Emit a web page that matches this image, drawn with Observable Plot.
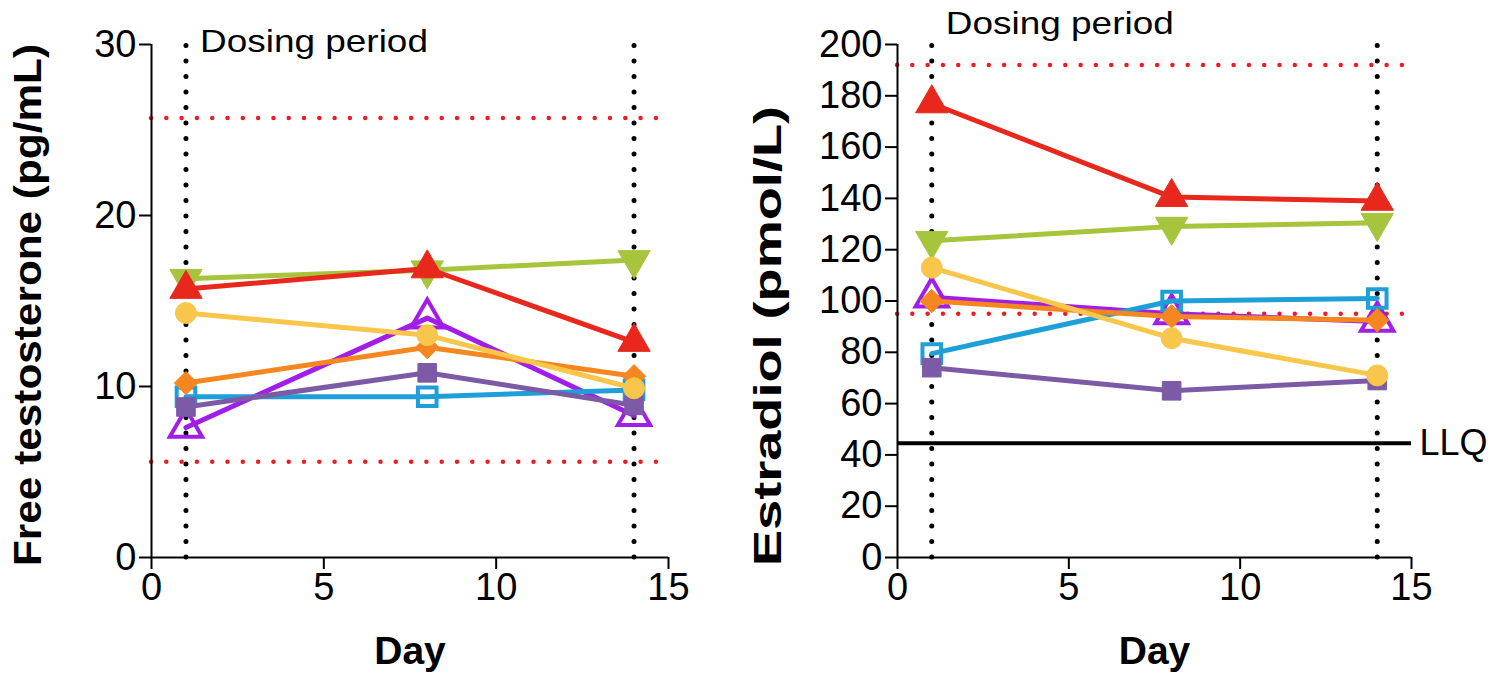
<!DOCTYPE html>
<html>
<head>
<meta charset="utf-8">
<script src="https://cdn.jsdelivr.net/npm/d3@7"></script>
<script src="https://cdn.jsdelivr.net/npm/@observablehq/plot@0.6"></script>
<style>
  html, body { margin: 0; padding: 0; background: #fff; }
  #wrap { display: flex; width: 1494px; height: 677px; }
  svg { font-family: Arial, "Liberation Sans", sans-serif; color: #000; }
</style>
</head>
<body>
<div id="wrap"></div>
<script>
// ---- data ----
const days = [1, 8, 14];
const series = ["Subject A", "Subject B", "Subject C", "Subject D", "Subject E", "Subject F", "Subject G"];
const seriesColors = ["#a6c43c", "#e8281c", "#f8c64a", "#f6861f", "#1f9fd8", "#7d5aa6", "#a11de8"];
const seriesSymbols = ["triangleDown", "triangle", "circle", "diamond2", "square", "square", "triangle"];
const seriesOpen = [false, false, false, false, true, false, true];

const testosterone = {
  "Subject A": [16.3, 16.8, 17.4],
  "Subject B": [15.7, 16.9, 12.6],
  "Subject C": [14.3, 13.0, 9.9],
  "Subject D": [10.2, 12.3, 10.6],
  "Subject E": [9.4, 9.4, 9.8],
  "Subject F": [8.8, 10.8, 8.9],
  "Subject G": [7.6, 14.0, 8.3]
};
const estradiol = {
  "Subject A": [123.5, 129, 130.5],
  "Subject B": [177, 140.5, 139],
  "Subject C": [113, 85.5, 71],
  "Subject D": [100, 94, 92.5],
  "Subject E": [79.5, 100, 101],
  "Subject F": [74, 65, 69],
  "Subject G": [101.5, 95, 92]
};
const testosteroneRefRange = [5.6, 25.7];
const estradiolRefRange = [95, 192];
const estradiolLLQ = 44.5;
const dosingDays = [1, 14];
const xTicks = [0, 5, 10, 15];
const testosteroneTicks = [0, 10, 20, 30];
const estradiolTicks = [0, 20, 40, 60, 80, 100, 120, 140, 160, 180, 200];
const drawOrder = ["Subject G", "Subject E", "Subject F", "Subject D", "Subject A", "Subject B", "Subject C"];

// ---- helpers ----
const triangleDown = {
  draw(context, size) {
    const y = -Math.sqrt(size / (Math.sqrt(3) * 3));
    context.moveTo(0, -y * 2);
    context.lineTo(-Math.sqrt(3) * y, y);
    context.lineTo(Math.sqrt(3) * y, y);
    context.closePath();
  }
};

function seriesMarks(values) {
  const marks = [];
  for (const name of drawOrder) {
    const i = series.indexOf(name);
    const rows = days.map((d, j) => ({day: d, value: values[name][j], name}));
    const color = seriesColors[i];
    marks.push(Plot.line(rows, {x: "day", y: "value", stroke: color, strokeWidth: 5}));
    const sym = seriesSymbols[i] === "triangleDown" ? triangleDown : seriesSymbols[i];
    const r = seriesSymbols[i] === "circle" ? 10.5 : (seriesSymbols[i].startsWith("tri") ? 12 : 10.5);
    marks.push(Plot.dot(rows, {
      x: "day", y: "value", symbol: sym, r,
      fill: seriesOpen[i] ? "none" : color,
      stroke: color, strokeWidth: seriesOpen[i] ? 4 : 1
    }));
  }
  return marks;
}

function panel({yDomain, yTicks, ylabel, values, refRange, llq, marginLeft, marginRight, labelOffsetY, dosingDy}) {
  const marks = [
    Plot.ruleY(refRange, {stroke: "#ec1c24", strokeWidth: 4.5, strokeDasharray: "0 15.3", strokeLinecap: "round"}),
    Plot.ruleX(dosingDays, {y1: yDomain[0], y2: yDomain[1], stroke: "#000", strokeWidth: 5, strokeDasharray: "0 15.5", strokeLinecap: "round"}),
  ];
  if (llq != null) {
    marks.push(Plot.ruleY([llq], {stroke: "#000", strokeWidth: 4}));
    marks.push(Plot.text(["LLQ"], {x: xTicks[xTicks.length - 1], y: llq, text: d => d, textAnchor: "start", dx: 8, fontSize: 36, fill: "#000"}));
  }
  marks.push(...seriesMarks(values));
  marks.push(Plot.text(["Dosing period"], {x: dosingDays[0], y: yDomain[1], text: d => d, textAnchor: "start", dx: 14, dy: dosingDy, fontSize: 32, fill: "#000"}));
  marks.push(Plot.ruleX([0], {y1: yDomain[0], y2: yDomain[1], stroke: "#000", strokeWidth: 2}));
  marks.push(Plot.ruleY([yDomain[0]], {x1: 0, x2: 15, stroke: "#000", strokeWidth: 2}));
  marks.push(Plot.axisY({ticks: yTicks, tickSize: 12, tickPadding: 3, fontSize: 38, label: ylabel, labelAnchor: "center", labelOffset: labelOffsetY, labelArrow: "none", strokeWidth: 2}));
  marks.push(Plot.axisX({ticks: xTicks, tickSize: 12, tickPadding: 4, fontSize: 38, label: "Day", labelAnchor: "center", labelOffset: 106, labelArrow: "none", strokeWidth: 2}));
  return Plot.plot({
    width: 747, height: 677,
    marginLeft, marginRight, marginTop: 44, marginBottom: 120,
    x: {domain: [0, 15]},
    y: {domain: yDomain},
    style: {fontFamily: 'Arial, "Liberation Sans", sans-serif', color: "#000", background: "#fff", overflow: "visible"},
    marks
  });
}

const left = panel({yDomain: [0, 30], yTicks: testosteroneTicks, ylabel: "Free testosterone (pg/mL)", values: testosterone, refRange: testosteroneRefRange, llq: null, marginLeft: 151, marginRight: 79, labelOffsetY: 138, dosingDy: -3});
const right = panel({yDomain: [0, 200], yTicks: estradiolTicks, ylabel: "Estradiol (pmol/L)", values: estradiol, refRange: estradiolRefRange, llq: estradiolLLQ, marginLeft: 150, marginRight: 83, labelOffsetY: 144, dosingDy: -21});

const wrap = document.getElementById("wrap");
wrap.appendChild(left);
wrap.appendChild(right);

// typographic adjustments (the reference type is slightly wider than Arial)
function adjust(svg, content, attrs) {
  d3.select(svg).selectAll("text").filter(function() { return this.textContent === content; })
    .each(function() { const s = d3.select(this); for (const k in attrs) s.attr(k, attrs[k]); });
}
adjust(left, "Day", {"font-weight": "bold", "font-size": 39});
adjust(right, "Day", {"font-weight": "bold", "font-size": 39});
adjust(left, "Free testosterone (pg/mL)", {"font-weight": "bold", "font-size": 39, textLength: 522, lengthAdjust: "spacingAndGlyphs", x: -4});
adjust(right, "Estradiol (pmol/L)", {"font-weight": "bold", "font-size": 39, textLength: 460, lengthAdjust: "spacingAndGlyphs", x: -35});
adjust(left, "Dosing period", {textLength: 228, lengthAdjust: "spacingAndGlyphs"});
adjust(right, "Dosing period", {textLength: 228, lengthAdjust: "spacingAndGlyphs"});
</script>
</body>
</html>
